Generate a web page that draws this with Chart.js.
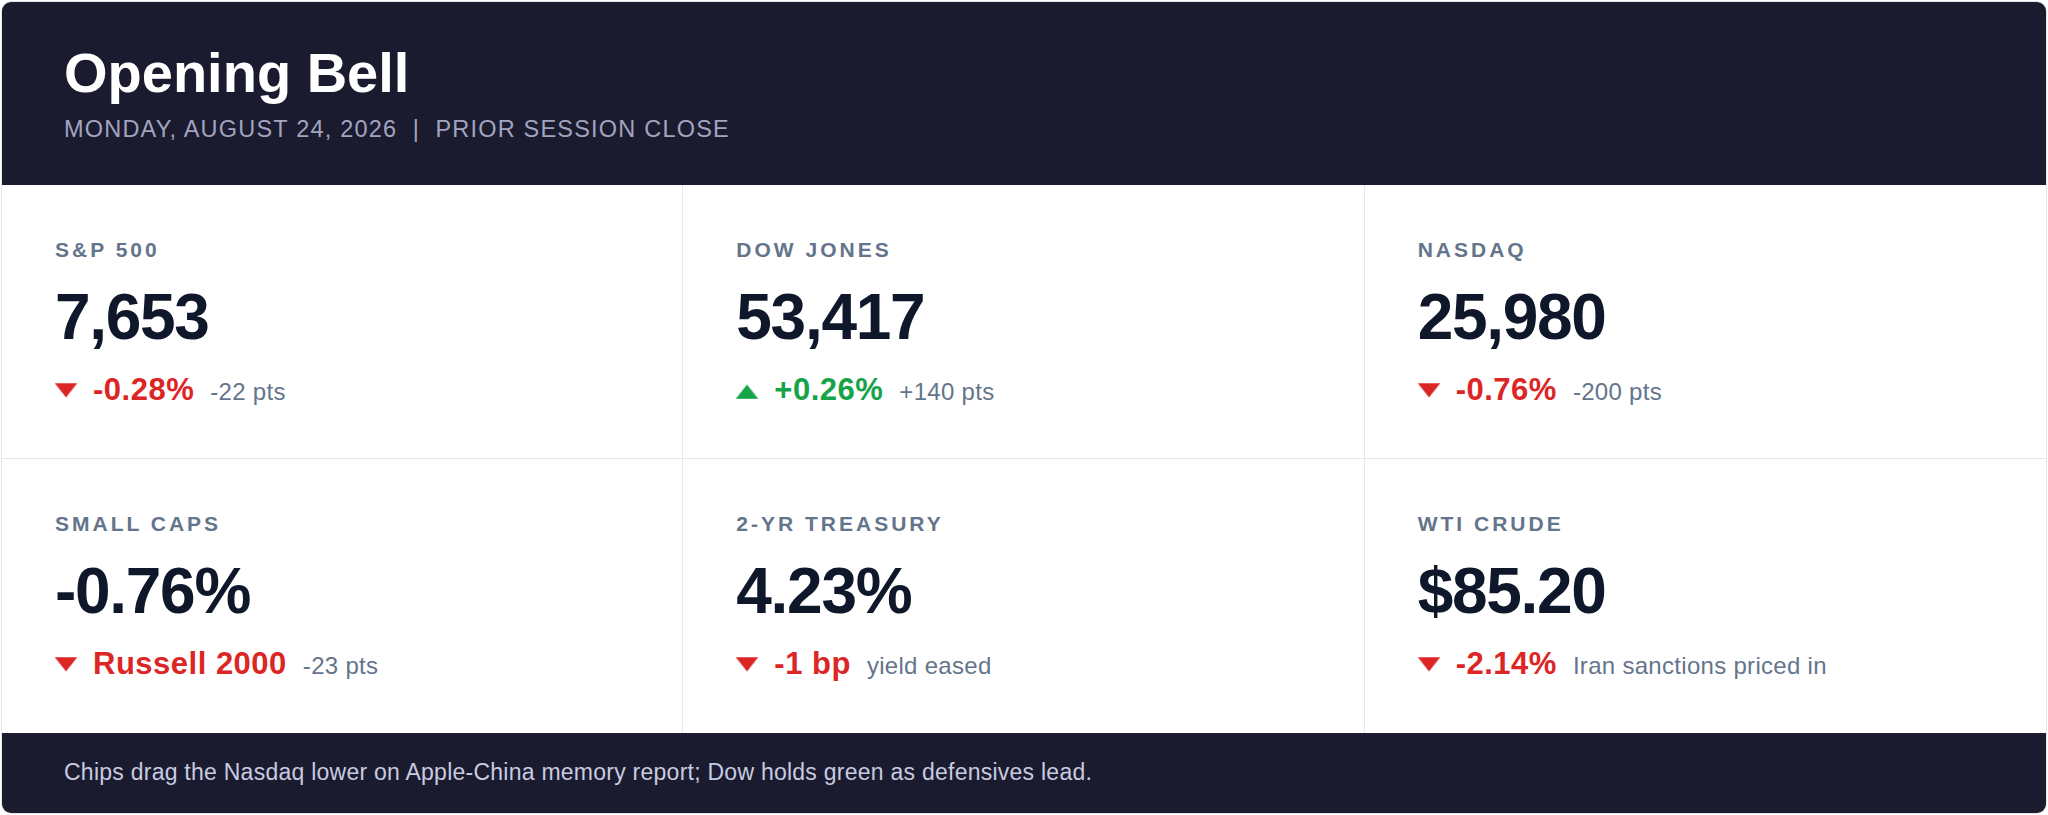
<!DOCTYPE html>
<html lang="en">
<head>
    <meta charset="UTF-8">
    <title>Opening Bell</title>
    <script src="https://cdn.jsdelivr.net/npm/chart.js"></script>
    <style>
        body { margin: 0; background: #ffffff; font-family: "Liberation Sans", Arial, Helvetica, sans-serif; }
        .card {
            position: absolute; left: 1px; top: 1px; width: 2044px; height: 811px;
            border: 1px solid #e3e5ea; border-radius: 10px; overflow: hidden; background: #fff;
        }
        .header { position: relative; height: 183px; background: #1b1b2f; }
        .title { position: absolute; left: 62px; top: 43px; font-size: 56px; line-height: 56px; font-weight: bold; color: #fff; }
        .subtitle { position: absolute; left: 62px; top: 116px; font-size: 23.5px; line-height: 23.5px; letter-spacing: 1.2px; color: #a2a4bf; white-space: pre; }
        .grid { display: grid; grid-template-columns: repeat(3, 1fr); grid-template-rows: 274px 274px; }
        .tile { position: relative; border-right: 1px solid #e5e7eb; border-bottom: 1px solid #e5e7eb; }
        .tile:nth-child(3n) { border-right: none; }
        .tile:nth-child(n+4) { border-bottom: none; }
        .label { position: absolute; left: 53px; top: 54px; font-size: 21px; line-height: 21px; font-weight: bold; letter-spacing: 3px; color: #64748b; }
        .value { position: absolute; left: 53px; top: 100px; font-size: 64px; line-height: 64px; font-weight: bold; letter-spacing: -1.3px; color: #0f172a; }
        .change { position: absolute; left: 50px; top: 190px; height: 30px; line-height: 30px; white-space: nowrap; }
        .change canvas { position: absolute; left: 0; }
        .pct { position: absolute; left: 41px; top: 0; font-size: 31px; font-weight: bold; letter-spacing: 0.5px; }
        .detail { font-size: 24px; font-weight: normal; letter-spacing: 0.3px; color: #64748b; margin-left: 16px; }
        .footer { position: relative; height: 80px; background: #1b1b2f; }
        .footer span { position: absolute; left: 62px; top: 28px; font-size: 23px; line-height: 23px; letter-spacing: 0.25px; color: #c8cbe0; white-space: nowrap; }
    </style>
</head>
<body>
    <div class="card">
        <div class="header">
            <div class="title">Opening Bell</div>
            <div class="subtitle" id="subtitle"></div>
        </div>
        <div class="grid" id="grid"></div>
        <div class="footer"><span id="footnote"></span></div>
    </div>

    <script>
        const title = 'Opening Bell';
        const dateLine = 'MONDAY, AUGUST 24, 2026';
        const sessionLine = 'PRIOR SESSION CLOSE';
        const footnote = 'Chips drag the Nasdaq lower on Apple-China memory report; Dow holds green as defensives lead.';

        const labels = ['S&P 500', 'DOW JONES', 'NASDAQ', 'SMALL CAPS', '2-YR TREASURY', 'WTI CRUDE'];
        const values = ['7,653', '53,417', '25,980', '-0.76%', '4.23%', '$85.20'];
        const changes = ['-0.28%', '+0.26%', '-0.76%', 'Russell 2000', '-1 bp', '-2.14%'];
        const details = ['-22 pts', '+140 pts', '-200 pts', '-23 pts', 'yield eased', 'Iran sanctions priced in'];
        const directions = [-1, 1, -1, -1, -1, -1];

        const UP = '#16a34a';
        const DOWN = '#dc2626';

        document.getElementById('subtitle').textContent = dateLine + '  |  ' + sessionLine;
        document.getElementById('footnote').textContent = footnote;

        const grid = document.getElementById('grid');

        function drawMarker(canvas, dir) {
            // one point, the triangle marker of the move
            new Chart(canvas.getContext('2d'), {
                type: 'scatter',
                data: {
                    datasets: [{
                        data: [{ x: 0, y: 0 }],
                        pointStyle: 'triangle',
                        rotation: dir > 0 ? 0 : 180,
                        radius: 12,
                        borderWidth: 0,
                        backgroundColor: dir > 0 ? UP : DOWN,
                        clip: false
                    }]
                },
                options: {
                    responsive: false,
                    animation: false,
                    events: [],
                    layout: { padding: 0 },
                    plugins: { legend: { display: false }, tooltip: { enabled: false } },
                    scales: {
                        x: { display: false, min: -1, max: 1 },
                        y: { display: false, min: -1, max: 1 }
                    }
                }
            });
        }

        for (let i = 0; i < labels.length; i++) {
            const tile = document.createElement('div');
            tile.className = 'tile';

            const label = document.createElement('div');
            label.className = 'label';
            label.textContent = labels[i];

            const value = document.createElement('div');
            value.className = 'value';
            value.textContent = values[i];

            const change = document.createElement('div');
            change.className = 'change';

            // drawn at 26x28, shown a bit wider and flatter like the reference marker
            const canvas = document.createElement('canvas');
            canvas.width = 26;
            canvas.height = 28;
            canvas.style.width = '28px';
            canvas.style.height = '22px';
            canvas.style.top = (directions[i] > 0 ? 8 : 2) + 'px';

            const pct = document.createElement('span');
            pct.className = 'pct';
            pct.style.color = directions[i] > 0 ? UP : DOWN;
            pct.textContent = changes[i];

            const detail = document.createElement('span');
            detail.className = 'detail';
            detail.textContent = details[i];
            pct.appendChild(detail);

            change.appendChild(canvas);
            change.appendChild(pct);
            tile.appendChild(label);
            tile.appendChild(value);
            tile.appendChild(change);
            grid.appendChild(tile);

            drawMarker(canvas, directions[i]);
        }
    </script>
</body>
</html>
